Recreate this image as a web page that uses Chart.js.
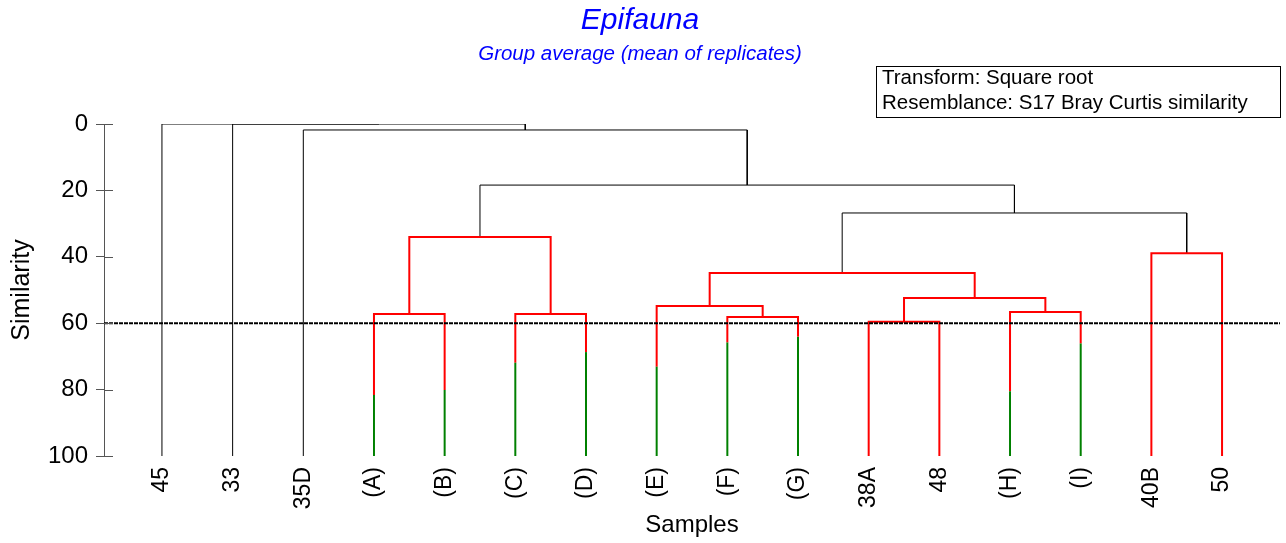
<!DOCTYPE html>
<html>
<head>
<meta charset="utf-8">
<script src="https://cdn.jsdelivr.net/npm/chart.js@4/dist/chart.umd.min.js"></script>
<style>
  html, body { margin: 0; padding: 0; background: #fff; }
  #wrap { width: 1286px; height: 543px; }
</style>
</head>
<body>
<div id="wrap"><canvas id="dendroChart" width="1286" height="543"></canvas></div>
<script>
// leaves, left to right
const samples = ["45", "33", "35D", "(A)", "(B)", "(C)", "(D)", "(E)", "(F)", "(G)", "38A", "48", "(H)", "(I)", "40B", "50"];
// level where a leaf stem turns from green to red (null = no green part)
const greenTop = [null, null, null, 81.6, 80.1, 71.9, 68.7, 73.1, 65.8, 64.1, null, null, 80.5, 66.1, null, null];
// merges: new cluster ids start at 16
const mergeLeft = [3, 5, 16, 8, 7, 10, 12, 21, 20, 14, 24, 18, 2, 1, 0];
const mergeRight = [4, 6, 17, 9, 19, 11, 13, 22, 23, 15, 25, 26, 27, 28, 29];
const mergeHeight = [57.2, 57.2, 34.0, 58.1, 54.8, 59.6, 56.6, 52.4, 44.9, 38.9, 26.8, 18.4, 1.8, 0, 0];
const mergeRed = [true, true, true, true, true, true, true, true, true, true, false, false, false, false, false];
const cutLevel = 60;
const yTicks = [0, 20, 40, 60, 80, 100];

document.addEventListener("DOMContentLoaded", () => {
    const ctx = document.getElementById("dendroChart").getContext("2d");
    Chart.defaults.font.family = "'Liberation Sans', Arial, sans-serif";
    Chart.defaults.color = "#000";

    const xMin = -0.82;
    const xMax = 15.82;

    // x position and top of every cluster; leaves start where their green part ends
    const pos = samples.map((s, i) => i);
    const top = samples.map((s, i) => greenTop[i] === null ? 100 : greenTop[i]);
    const datasets = [];

    mergeLeft.forEach((l, k) => {
        const r = mergeRight[k];
        const h = mergeHeight[k];
        datasets.push({
            data: [
                { x: pos[l], y: top[l] },
                { x: pos[l], y: h },
                { x: pos[r], y: h },
                { x: pos[r], y: top[r] }
            ],
            borderColor: mergeRed[k] ? "#ff0000" : "#000000",
            borderWidth: mergeRed[k] ? 2 : 1,
            order: 2
        });
        pos.push((pos[l] + pos[r]) / 2);
        top.push(h);
    });

    greenTop.forEach((g, i) => {
        if (g === null) return;
        datasets.push({
            data: [{ x: i, y: 100 }, { x: i, y: g }],
            borderColor: "#008000",
            borderWidth: 2,
            order: 1
        });
    });

    datasets.push({
        data: [{ x: xMin, y: cutLevel }, { x: xMax, y: cutLevel }],
        borderColor: "#000000",
        borderWidth: 2,
        borderDash: [4, 1],
        order: 0
    });

    const infoBox = {
        id: "infoBox",
        afterDraw(chart) {
            const c = chart.ctx;
            const right = chart.chartArea.right;
            const left = right - 404;
            c.save();
            c.strokeStyle = "#000";
            c.lineWidth = 1;
            c.strokeRect(left + 0.5, 66.5, 404, 51);
            c.fillStyle = "#000";
            c.font = "20.5px 'Liberation Sans', Arial, sans-serif";
            c.textBaseline = "middle";
            c.fillText("Transform: Square root", left + 6, 78);
            c.fillText("Resemblance: S17 Bray Curtis similarity", left + 6, 103);
            // tick stubs inside the plot
            const ys = chart.scales.y;
            c.strokeStyle = "#555";
            c.beginPath();
            yTicks.forEach(v => {
                const py = Math.round(ys.getPixelForValue(v)) + 0.5;
                c.moveTo(ys.right, py);
                c.lineTo(ys.right + 9, py);
            });
            c.stroke();
            c.restore();
        }
    };

    new Chart(ctx, {
        type: "scatter",
        data: { datasets: datasets },
        options: {
            responsive: false,
            animation: false,
            layout: { padding: { left: 0, right: 6, top: 0, bottom: 0 } },
            elements: {
                point: { radius: 0, hoverRadius: 0 },
                line: { tension: 0, fill: false }
            },
            datasets: { scatter: { showLine: true } },
            plugins: {
                legend: { display: false },
                tooltip: { enabled: false },
                title: {
                    display: true,
                    text: "Epifauna",
                    color: "#0000ff",
                    font: { size: 30, style: "italic", weight: "normal" },
                    padding: { top: 3, bottom: 3 }
                },
                subtitle: {
                    display: true,
                    text: "Group average (mean of replicates)",
                    color: "#0000ff",
                    font: { size: 20.5, style: "italic", weight: "normal" },
                    padding: { top: 0, bottom: 57.4 }
                }
            },
            scales: {
                x: {
                    type: "linear",
                    min: xMin,
                    max: xMax,
                    afterBuildTicks: scale => {
                        scale.ticks = samples.map((s, i) => ({ value: i }));
                    },
                    afterFit: scale => { scale.height = 87; },
                    ticks: {
                        callback: value => samples[value],
                        minRotation: 90,
                        maxRotation: 90,
                        autoSkip: false,
                        padding: 3,
                        color: "#000",
                        font: { size: 23 }
                    },
                    grid: { display: false },
                    border: { display: false },
                    title: {
                        display: true,
                        text: "Samples",
                        color: "#000",
                        font: { size: 24 },
                        padding: { top: 4, bottom: 3 }
                    }
                },
                y: {
                    type: "linear",
                    reverse: true,
                    min: 0,
                    max: 100,
                    afterBuildTicks: scale => {
                        scale.ticks = yTicks.map(v => ({ value: v }));
                    },
                    afterFit: scale => { scale.width = 104; },
                    ticks: {
                        padding: 8,
                        color: "#000",
                        font: { size: 24 }
                    },
                    grid: {
                        drawOnChartArea: false,
                        drawTicks: true,
                        tickLength: 8,
                        color: "#555"
                    },
                    border: { display: true, color: "#555", width: 1 },
                    title: {
                        display: true,
                        text: "Similarity",
                        color: "#000",
                        font: { size: 25 },
                        padding: { top: 7, bottom: 0 }
                    }
                }
            }
        },
        plugins: [infoBox]
    });
});
</script>
</body>
</html>
